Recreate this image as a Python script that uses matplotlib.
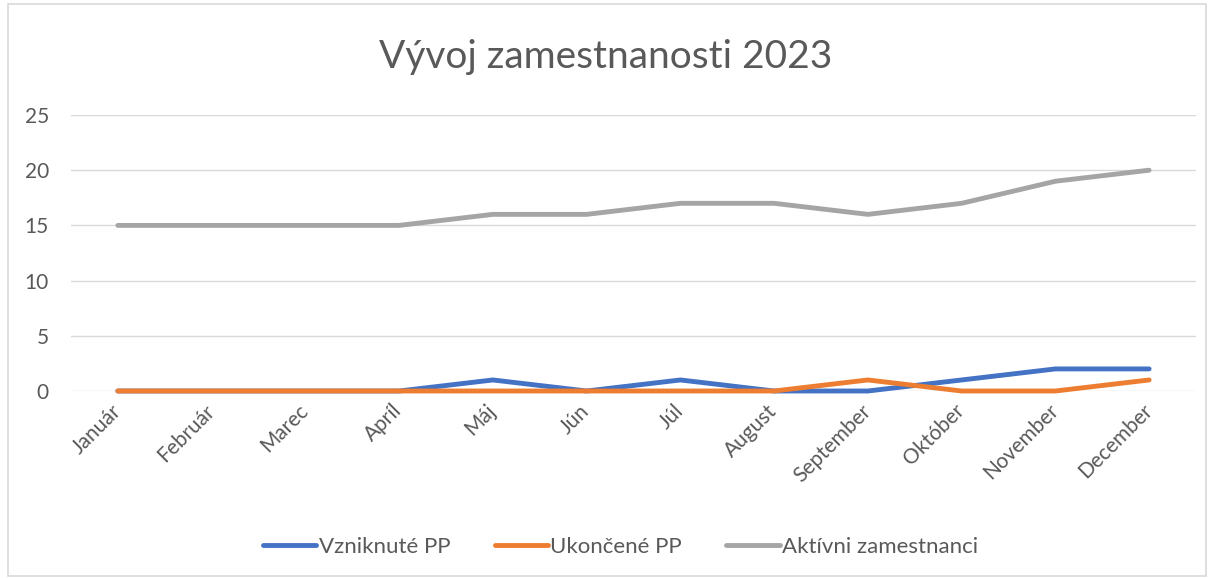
import matplotlib
matplotlib.use('Agg')
import matplotlib.pyplot as plt
from matplotlib.patches import Rectangle

plt.rcParams['font.family'] = ['Lato', 'DejaVu Sans']

months = ['Január', 'Február', 'Marec', 'Apríl', 'Máj', 'Jún', 'Júl',
          'August', 'September', 'Október', 'November', 'December']
vzniknute = [0, 0, 0, 0, 1, 0, 1, 0, 0, 1, 2, 2]
ukoncene = [0, 0, 0, 0, 0, 0, 0, 0, 1, 0, 0, 1]
aktivni = [15, 15, 15, 15, 16, 16, 17, 17, 16, 17, 19, 20]

text_col = '#595959'

fig = plt.figure(figsize=(12.12, 5.78), dpi=100)
ax = fig.add_axes([71 / 1212, 1 - 391 / 578, (1196 - 71) / 1212, (391 - 115) / 578])

x = range(len(months))
ax.plot(x, vzniknute, color='#4472C4', lw=3.5, label='Vzniknuté PP',
        solid_capstyle='round', clip_on=False, zorder=3)
ax.plot(x, ukoncene, color='#ED7D31', lw=3.5, label='Ukončené PP',
        solid_capstyle='round', clip_on=False, zorder=4)
ax.plot(x, aktivni, color='#A5A5A5', lw=3.5, label='Aktívni zamestnanci',
        solid_capstyle='round', clip_on=False, zorder=3)

ax.set_xlim(-0.5, len(months) - 0.5)
ax.set_ylim(0, 25)
ax.set_yticks(range(0, 26, 5))
ax.set_xticks(list(x))
ax.set_xticklabels(months, rotation=45, ha='right', va='center', rotation_mode='anchor',
                   fontsize=16)
ax.tick_params(axis='both', length=0, labelsize=15, labelcolor=text_col)
ax.tick_params(axis='y', pad=16)
ax.tick_params(axis='x', pad=12)
ax.grid(axis='y', color='#D9D9D9', lw=1)
ax.set_axisbelow(True)
for s in ax.spines.values():
    s.set_visible(False)

fig.text(0.5, 1 - 57 / 578, 'Vývoj zamestnanosti 2023', ha='center', va='center',
         fontsize=28, color=text_col)

fig.legend(loc='center', bbox_to_anchor=(0.512, 1 - 547 / 578), ncol=3, frameon=False,
           fontsize=16, handlelength=2.4, handletextpad=0.1, columnspacing=2.0,
           labelcolor=text_col)

fig.patches.append(Rectangle((8 / 1212, 0.003), 1198 / 1212, 0.99, transform=fig.transFigure,
                             fill=False, edgecolor='#D9D9D9', lw=1.2))

fig.savefig('out.png', dpi=100)
